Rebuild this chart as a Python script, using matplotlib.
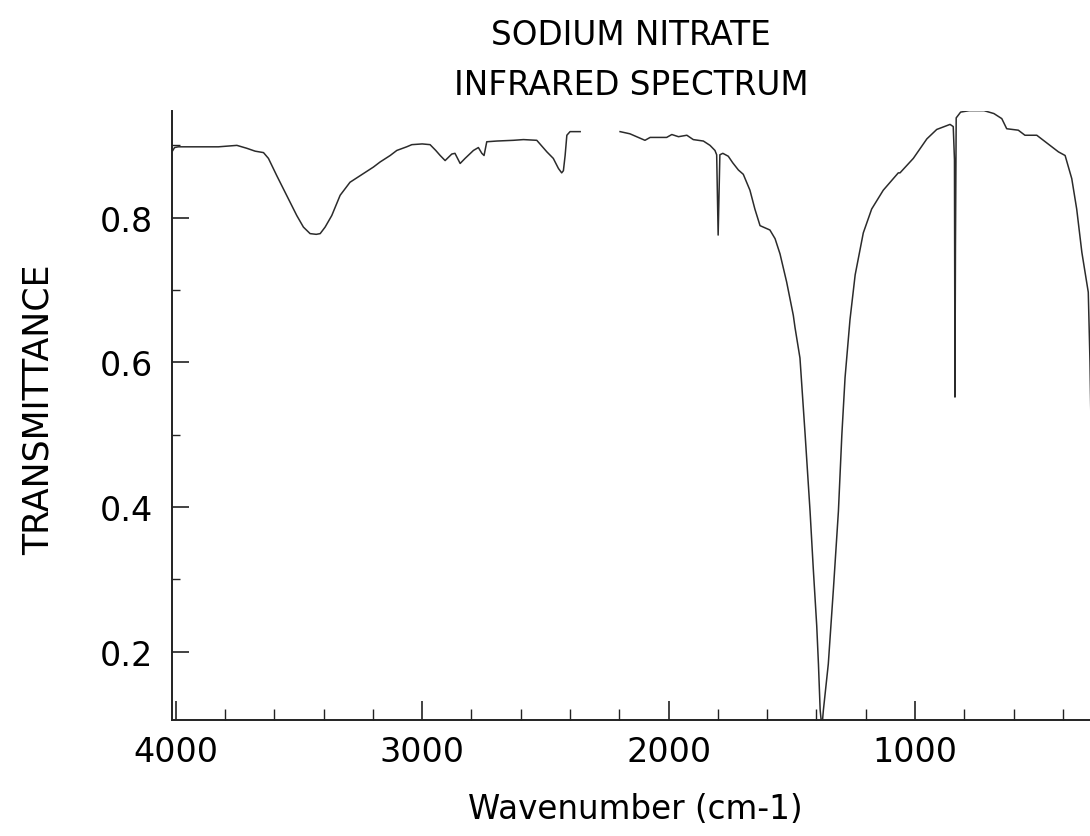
import numpy as np
import matplotlib
matplotlib.use("Agg")
import matplotlib.pyplot as plt
from matplotlib.ticker import MultipleLocator

# IR spectrum of sodium nitrate, read point by point (cm-1, transmittance)
# NaN marks the stretch with no recorded data
wavenumber = [
    4012, 4005, 3990, 3900, 3827, 3752, 3712, 3678, 3644, 3624,
    3590, 3550, 3509, 3482, 3455, 3430, 3414, 3394, 3367, 3333,
    3293, 3252, 3198, 3171, 3130, 3103, 3063, 3042, 3000, 2968,
    2945, 2927, 2907, 2880, 2867, 2846, 2826, 2792, 2772, 2758,
    2749, 2738, 2697, 2630, 2589, 2535, 2522, 2494, 2468, 2447,
    2434, 2427, 2420, 2413, 2400, 2359, 2300, 2197, 2157, 2096,
    2075, 2008, 1987, 1960, 1926, 1900, 1859, 1832, 1812, 1805,
    1799, 1792, 1780, 1758, 1740, 1717, 1697, 1670, 1650, 1629,
    1602, 1589, 1568, 1548, 1521, 1494, 1487, 1467, 1446, 1426,
    1413, 1399, 1392, 1385, 1378, 1372, 1352, 1331, 1311, 1297,
    1284, 1264, 1243, 1210, 1176, 1129, 1068, 1061, 1007, 952,
    912, 858, 845, 840, 838, 836, 833, 815, 780, 720,
    680, 648, 628, 581, 554, 506, 452, 418, 391, 364,
    344, 323, 297, 290, 283,
]
transmittance = [
    0.893, 0.897, 0.898, 0.898, 0.898, 0.900, 0.896, 0.892, 0.890, 0.882,
    0.858, 0.831, 0.803, 0.787, 0.778, 0.777, 0.778, 0.787, 0.803, 0.831,
    0.849, 0.858, 0.870, 0.877, 0.886, 0.893, 0.898, 0.901, 0.902, 0.901,
    0.893, 0.886, 0.879, 0.888, 0.889, 0.875, 0.882, 0.893, 0.897, 0.889,
    0.886, 0.905, 0.906, 0.907, 0.908, 0.907, 0.902, 0.891, 0.882, 0.868,
    0.862, 0.865, 0.886, 0.914, 0.919, 0.919, np.nan, 0.919, 0.916, 0.907,
    0.911, 0.911, 0.915, 0.912, 0.914, 0.908, 0.906, 0.900, 0.893, 0.887,
    0.776, 0.887, 0.889, 0.885, 0.876, 0.866, 0.860, 0.838, 0.812, 0.789,
    0.785, 0.783, 0.771, 0.750, 0.711, 0.665, 0.648, 0.606, 0.500, 0.394,
    0.315, 0.236, 0.183, 0.119, 0.095, 0.119, 0.183, 0.288, 0.394, 0.500,
    0.579, 0.659, 0.721, 0.779, 0.812, 0.838, 0.862, 0.862, 0.882, 0.909,
    0.922, 0.929, 0.926, 0.880, 0.552, 0.760, 0.938, 0.946, 0.948, 0.948,
    0.944, 0.937, 0.923, 0.921, 0.914, 0.914, 0.900, 0.891, 0.886, 0.854,
    0.812, 0.752, 0.697, 0.600, 0.450,
]

plt.rcParams['font.family'] = ['DejaVu Sans']

fig = plt.figure(figsize=(10.9, 8.37), dpi=100)
ax = fig.add_axes([0.1581, 0.1390, 0.8419, 0.7276])

ax.plot(wavenumber, transmittance, color='#2b2b2b', linewidth=1.1)

ax.set_xlim(4014, 290)
ax.set_ylim(0.106, 0.948)

ax.xaxis.set_major_locator(MultipleLocator(1000))
ax.xaxis.set_minor_locator(MultipleLocator(200))
ax.yaxis.set_major_locator(MultipleLocator(0.2))
ax.yaxis.set_minor_locator(MultipleLocator(0.1))
ax.set_yticks([0.2, 0.4, 0.6, 0.8])

for side in ['top', 'right']:
    ax.spines[side].set_visible(False)
for side in ['left', 'bottom']:
    ax.spines[side].set_linewidth(1.4)
    ax.spines[side].set_color('#222222')

ax.tick_params(axis='x', which='major', direction='in', length=14, width=1.2,
               pad=11, labelsize=24, color='#222222')
ax.tick_params(axis='x', which='minor', direction='in', length=8, width=1.0,
               color='#222222')
ax.tick_params(axis='y', which='major', direction='in', length=12, width=1.2,
               pad=14, labelsize=24, color='#222222')
ax.tick_params(axis='y', which='minor', direction='in', length=6, width=1.0,
               color='#222222')

ax.set_xlabel('Wavenumber (cm-1)', fontsize=23.5)
ax.xaxis.set_label_coords(0.505, -0.118)
ax.set_ylabel('TRANSMITTANCE', fontsize=25)
ax.yaxis.set_label_coords(-0.127, 0.51)

ax.set_title('SODIUM NITRATE\nINFRARED SPECTRUM', fontsize=23.5,
             linespacing=1.65, pad=12)

fig.savefig('out.png', dpi=100)
